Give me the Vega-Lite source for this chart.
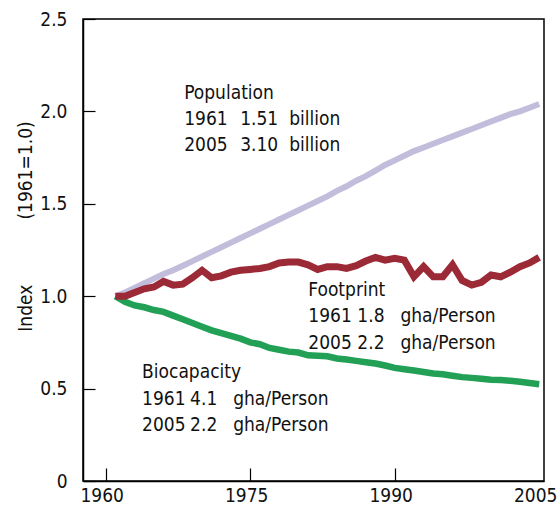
{
  "$schema": "https://vega.github.io/schema/vega-lite/v6.json",
  "autosize": "none",
  "width": 461,
  "height": 462,
  "padding": {"left": 83, "top": 19, "right": 13, "bottom": 30},
  "background": "white",
  "config": {
    "view": {"stroke": "#000", "strokeWidth": 1.5},
    "font": "DejaVu Sans Condensed",
    "axis": {
      "labelFont": "DejaVu Sans Condensed",
      "labelFontSize": 19,
      "labelColor": "#111",
      "titleFont": "DejaVu Sans Condensed",
      "titleFontSize": 19,
      "titleFontWeight": "normal",
      "titleColor": "#111",
      "domainColor": "#000",
      "domainWidth": 1.5,
      "tickColor": "#000",
      "tickWidth": 1.2,
      "grid": false
    }
  },
  "datasets": {
    "series": [
      {"year": 1961, "series": "Population", "value": 1.0},
      {"year": 1962, "series": "Population", "value": 1.02},
      {"year": 1963, "series": "Population", "value": 1.045},
      {"year": 1964, "series": "Population", "value": 1.07},
      {"year": 1965, "series": "Population", "value": 1.095},
      {"year": 1966, "series": "Population", "value": 1.12},
      {"year": 1967, "series": "Population", "value": 1.14},
      {"year": 1968, "series": "Population", "value": 1.165},
      {"year": 1969, "series": "Population", "value": 1.19},
      {"year": 1970, "series": "Population", "value": 1.215},
      {"year": 1971, "series": "Population", "value": 1.24},
      {"year": 1972, "series": "Population", "value": 1.265},
      {"year": 1973, "series": "Population", "value": 1.29},
      {"year": 1974, "series": "Population", "value": 1.315},
      {"year": 1975, "series": "Population", "value": 1.34},
      {"year": 1976, "series": "Population", "value": 1.365},
      {"year": 1977, "series": "Population", "value": 1.39},
      {"year": 1978, "series": "Population", "value": 1.415},
      {"year": 1979, "series": "Population", "value": 1.44},
      {"year": 1980, "series": "Population", "value": 1.465},
      {"year": 1981, "series": "Population", "value": 1.49},
      {"year": 1982, "series": "Population", "value": 1.515},
      {"year": 1983, "series": "Population", "value": 1.54},
      {"year": 1984, "series": "Population", "value": 1.57},
      {"year": 1985, "series": "Population", "value": 1.595},
      {"year": 1986, "series": "Population", "value": 1.625},
      {"year": 1987, "series": "Population", "value": 1.65},
      {"year": 1988, "series": "Population", "value": 1.68},
      {"year": 1989, "series": "Population", "value": 1.71},
      {"year": 1990, "series": "Population", "value": 1.735},
      {"year": 1991, "series": "Population", "value": 1.76},
      {"year": 1992, "series": "Population", "value": 1.785},
      {"year": 1993, "series": "Population", "value": 1.805},
      {"year": 1994, "series": "Population", "value": 1.825},
      {"year": 1995, "series": "Population", "value": 1.845},
      {"year": 1996, "series": "Population", "value": 1.865},
      {"year": 1997, "series": "Population", "value": 1.885},
      {"year": 1998, "series": "Population", "value": 1.905},
      {"year": 1999, "series": "Population", "value": 1.925},
      {"year": 2000, "series": "Population", "value": 1.945},
      {"year": 2001, "series": "Population", "value": 1.965},
      {"year": 2002, "series": "Population", "value": 1.985},
      {"year": 2003, "series": "Population", "value": 2.0},
      {"year": 2004, "series": "Population", "value": 2.02},
      {"year": 2005, "series": "Population", "value": 2.04},

      {"year": 1961, "series": "Biocapacity", "value": 1.0},
      {"year": 1962, "series": "Biocapacity", "value": 0.97},
      {"year": 1963, "series": "Biocapacity", "value": 0.95},
      {"year": 1964, "series": "Biocapacity", "value": 0.94},
      {"year": 1965, "series": "Biocapacity", "value": 0.925},
      {"year": 1966, "series": "Biocapacity", "value": 0.915},
      {"year": 1967, "series": "Biocapacity", "value": 0.895},
      {"year": 1968, "series": "Biocapacity", "value": 0.875},
      {"year": 1969, "series": "Biocapacity", "value": 0.855},
      {"year": 1970, "series": "Biocapacity", "value": 0.835},
      {"year": 1971, "series": "Biocapacity", "value": 0.815},
      {"year": 1972, "series": "Biocapacity", "value": 0.8},
      {"year": 1973, "series": "Biocapacity", "value": 0.785},
      {"year": 1974, "series": "Biocapacity", "value": 0.77},
      {"year": 1975, "series": "Biocapacity", "value": 0.75},
      {"year": 1976, "series": "Biocapacity", "value": 0.74},
      {"year": 1977, "series": "Biocapacity", "value": 0.72},
      {"year": 1978, "series": "Biocapacity", "value": 0.71},
      {"year": 1979, "series": "Biocapacity", "value": 0.7},
      {"year": 1980, "series": "Biocapacity", "value": 0.695},
      {"year": 1981, "series": "Biocapacity", "value": 0.68},
      {"year": 1982, "series": "Biocapacity", "value": 0.678},
      {"year": 1983, "series": "Biocapacity", "value": 0.675},
      {"year": 1984, "series": "Biocapacity", "value": 0.663},
      {"year": 1985, "series": "Biocapacity", "value": 0.657},
      {"year": 1986, "series": "Biocapacity", "value": 0.65},
      {"year": 1987, "series": "Biocapacity", "value": 0.643},
      {"year": 1988, "series": "Biocapacity", "value": 0.636},
      {"year": 1989, "series": "Biocapacity", "value": 0.625},
      {"year": 1990, "series": "Biocapacity", "value": 0.612},
      {"year": 1991, "series": "Biocapacity", "value": 0.605},
      {"year": 1992, "series": "Biocapacity", "value": 0.598},
      {"year": 1993, "series": "Biocapacity", "value": 0.59},
      {"year": 1994, "series": "Biocapacity", "value": 0.582},
      {"year": 1995, "series": "Biocapacity", "value": 0.578},
      {"year": 1996, "series": "Biocapacity", "value": 0.57},
      {"year": 1997, "series": "Biocapacity", "value": 0.562},
      {"year": 1998, "series": "Biocapacity", "value": 0.558},
      {"year": 1999, "series": "Biocapacity", "value": 0.553},
      {"year": 2000, "series": "Biocapacity", "value": 0.548},
      {"year": 2001, "series": "Biocapacity", "value": 0.546},
      {"year": 2002, "series": "Biocapacity", "value": 0.542},
      {"year": 2003, "series": "Biocapacity", "value": 0.537},
      {"year": 2004, "series": "Biocapacity", "value": 0.53},
      {"year": 2005, "series": "Biocapacity", "value": 0.524},

      {"year": 1961, "series": "Footprint", "value": 1.0},
      {"year": 1962, "series": "Footprint", "value": 1.0},
      {"year": 1963, "series": "Footprint", "value": 1.02},
      {"year": 1964, "series": "Footprint", "value": 1.04},
      {"year": 1965, "series": "Footprint", "value": 1.05},
      {"year": 1966, "series": "Footprint", "value": 1.08},
      {"year": 1967, "series": "Footprint", "value": 1.06},
      {"year": 1968, "series": "Footprint", "value": 1.065},
      {"year": 1969, "series": "Footprint", "value": 1.1},
      {"year": 1970, "series": "Footprint", "value": 1.14},
      {"year": 1971, "series": "Footprint", "value": 1.1},
      {"year": 1972, "series": "Footprint", "value": 1.11},
      {"year": 1973, "series": "Footprint", "value": 1.13},
      {"year": 1974, "series": "Footprint", "value": 1.14},
      {"year": 1975, "series": "Footprint", "value": 1.145},
      {"year": 1976, "series": "Footprint", "value": 1.15},
      {"year": 1977, "series": "Footprint", "value": 1.16},
      {"year": 1978, "series": "Footprint", "value": 1.18},
      {"year": 1979, "series": "Footprint", "value": 1.185},
      {"year": 1980, "series": "Footprint", "value": 1.185},
      {"year": 1981, "series": "Footprint", "value": 1.17},
      {"year": 1982, "series": "Footprint", "value": 1.145},
      {"year": 1983, "series": "Footprint", "value": 1.16},
      {"year": 1984, "series": "Footprint", "value": 1.16},
      {"year": 1985, "series": "Footprint", "value": 1.15},
      {"year": 1986, "series": "Footprint", "value": 1.165},
      {"year": 1987, "series": "Footprint", "value": 1.19},
      {"year": 1988, "series": "Footprint", "value": 1.21},
      {"year": 1989, "series": "Footprint", "value": 1.195},
      {"year": 1990, "series": "Footprint", "value": 1.205},
      {"year": 1991, "series": "Footprint", "value": 1.195},
      {"year": 1992, "series": "Footprint", "value": 1.105},
      {"year": 1993, "series": "Footprint", "value": 1.16},
      {"year": 1994, "series": "Footprint", "value": 1.105},
      {"year": 1995, "series": "Footprint", "value": 1.105},
      {"year": 1996, "series": "Footprint", "value": 1.17},
      {"year": 1997, "series": "Footprint", "value": 1.085},
      {"year": 1998, "series": "Footprint", "value": 1.06},
      {"year": 1999, "series": "Footprint", "value": 1.075},
      {"year": 2000, "series": "Footprint", "value": 1.115},
      {"year": 2001, "series": "Footprint", "value": 1.105},
      {"year": 2002, "series": "Footprint", "value": 1.13},
      {"year": 2003, "series": "Footprint", "value": 1.16},
      {"year": 2004, "series": "Footprint", "value": 1.18},
      {"year": 2005, "series": "Footprint", "value": 1.21}
    ],
    "notes": [
      {"x": 1968.14, "y": 2.097, "text": "Population"},
      {"x": 1968.14, "y": 1.957, "text": "1961"},
      {"x": 1973.96, "y": 1.957, "text": "1.51"},
      {"x": 1979.05, "y": 1.957, "text": "billion"},
      {"x": 1968.14, "y": 1.816, "text": "2005"},
      {"x": 1973.96, "y": 1.816, "text": "3.10"},
      {"x": 1979.05, "y": 1.816, "text": "billion"},
      {"x": 1981.03, "y": 1.032, "text": "Footprint"},
      {"x": 1981.03, "y": 0.892, "text": "1961"},
      {"x": 1986.12, "y": 0.892, "text": "1.8"},
      {"x": 1990.59, "y": 0.892, "text": "gha/Person"},
      {"x": 1981.03, "y": 0.746, "text": "2005"},
      {"x": 1986.12, "y": 0.746, "text": "2.2"},
      {"x": 1990.59, "y": 0.746, "text": "gha/Person"},
      {"x": 1963.77, "y": 0.589, "text": "Biocapacity"},
      {"x": 1963.77, "y": 0.443, "text": "1961"},
      {"x": 1968.76, "y": 0.443, "text": "4.1"},
      {"x": 1973.23, "y": 0.443, "text": "gha/Person"},
      {"x": 1963.77, "y": 0.303, "text": "2005"},
      {"x": 1968.76, "y": 0.303, "text": "2.2"},
      {"x": 1973.23, "y": 0.303, "text": "gha/Person"}
    ]
  },
  "encoding": {
    "x": {
      "field": "year", "type": "quantitative",
      "scale": {"domain": [1957.64, 2005.5], "nice": false, "zero": false},
      "axis": {
        "title": null,
        "values": [1960, 1975, 1990, 2005],
        "format": "d",
        "tickSize": -13,
        "labelPadding": 18,
        "labelOffset": -4,
        "tickColor": {"condition": {"test": "datum.value == 2005", "value": "transparent"}, "value": "#000"}
      }
    },
    "y": {
      "field": "value", "type": "quantitative",
      "scale": {"domain": [0, 2.5], "nice": false},
      "axis": {
        "title": "Index\u00a0\u00a0\u00a0\u00a0\u00a0\u00a0\u00a0\u00a0\u00a0\u00a0\u00a0\u00a0(1961=1.0)",
        "values": [0, 0.5, 1, 1.5, 2, 2.5],
        "labelExpr": "datum.value == 0 ? '0' : format(datum.value, '.1f')",
        "tickSize": -12,
        "labelPadding": 28,
        "titleAngle": -90,
        "titleAlign": "center",
        "titleBaseline": "middle",
        "titleX": -58,
        "titleY": 207
      }
    }
  },
  "layer": [
    {
      "data": {"name": "series"},
      "transform": [{"filter": "datum.series == 'Population'"}],
      "mark": {"type": "line", "color": "#c3bddc", "strokeWidth": 6}
    },
    {
      "data": {"name": "series"},
      "transform": [{"filter": "datum.series == 'Biocapacity'"}],
      "mark": {"type": "line", "color": "#22a055", "strokeWidth": 6.5}
    },
    {
      "data": {"name": "series"},
      "transform": [{"filter": "datum.series == 'Footprint'"}],
      "mark": {"type": "line", "color": "#9c2a36", "strokeWidth": 7}
    },
    {
      "data": {"name": "notes"},
      "mark": {"type": "text", "align": "left", "baseline": "middle", "fontSize": 19, "font": "DejaVu Sans Condensed", "color": "#111"},
      "encoding": {
        "x": {"field": "x", "type": "quantitative"},
        "y": {"field": "y", "type": "quantitative"},
        "text": {"field": "text"}
      }
    }
  ]
}
